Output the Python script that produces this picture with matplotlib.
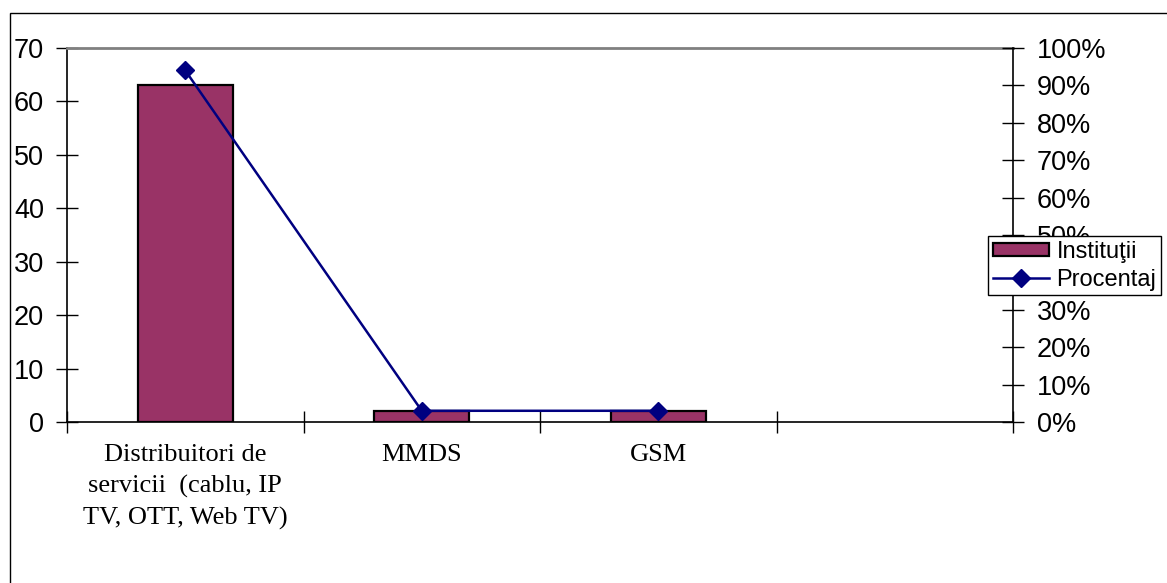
import matplotlib.pyplot as plt
from matplotlib.patches import Rectangle, Patch
from matplotlib.lines import Line2D
from matplotlib.ticker import FuncFormatter

categories = ["Distribuitori de\nservicii  (cablu, IP\nTV, OTT, Web TV)", "MMDS", "GSM", ""]
institutii = [63, 2, 2]
procentaj = [0.94, 0.03, 0.03]
left_ticks = [0, 10, 20, 30, 40, 50, 60, 70]
right_ticks = [0.0, 0.1, 0.2, 0.3, 0.4, 0.5, 0.6, 0.7, 0.8, 0.9, 1.0]

bar_color = '#993366'
line_color = '#000080'
sans = 'Liberation Sans'
serif = 'Liberation Serif'

W, H = 1167, 583
fig = plt.figure(figsize=(W / 100, H / 100), dpi=100)

# outer chart border (only left/top edges visible in the image)
fig.patches.append(Rectangle((10 / W, -0.1), 1.2, 1 - 13 / H + 0.1,
                             transform=fig.transFigure, fill=False,
                             edgecolor='black', linewidth=1))

ax = fig.add_axes([67 / W, 1 - 422 / H, (1013 - 67) / W, (422 - 48) / H])
ax2 = ax.twinx()

xs = list(range(len(institutii)))
ax.bar(xs, institutii, width=0.4, color=bar_color, edgecolor='black',
       linewidth=1.6, zorder=2)
ax.set_xlim(-0.5, len(categories) - 0.5)
ax.set_ylim(0, 70)
ax.set_yticks(left_ticks)
ax.set_yticklabels([str(t) for t in left_ticks], fontfamily=sans, fontsize=19.5)

# category boundaries as major ticks, labels on minor ticks
ax.set_xticks([i - 0.5 for i in range(len(categories) + 1)])
ax.set_xticklabels([])
ax.set_xticks(range(len(categories)), minor=True)
ax.set_xticklabels(categories, minor=True, fontfamily=serif, fontsize=19,
                   linespacing=1.5, va='top')
ax.tick_params(axis='x', which='minor', length=0, pad=16)
ax.tick_params(axis='x', which='major', direction='inout', length=16, width=1)
ax.tick_params(axis='y', direction='inout', length=16, width=1, pad=8.5)

ax.spines['top'].set_color('#808080')
ax.spines['top'].set_linewidth(2)
ax.spines['right'].set_visible(False)
ax.spines['left'].set_linewidth(1.2)
ax.spines['bottom'].set_linewidth(1.2)

ax2.plot(xs, procentaj, color=line_color, linewidth=1.8, marker='D',
         markersize=9, zorder=3)
ax2.set_ylim(0, 1)
ax2.set_yticks(right_ticks)
ax2.yaxis.set_major_formatter(FuncFormatter(lambda v, p: '%d%%' % round(v * 100)))
for lab in ax2.get_yticklabels():
    lab.set_fontfamily(sans)
    lab.set_fontsize(19.5)
ax2.tick_params(axis='y', direction='inout', length=16, width=1, pad=9)
ax2.spines['right'].set_linewidth(1.2)
ax2.spines['top'].set_visible(False)
ax2.spines['left'].set_visible(False)
ax2.spines['bottom'].set_visible(False)
ax.set_zorder(ax2.get_zorder() - 1)
ax2.patch.set_visible(False)

handles = [Patch(facecolor=bar_color, edgecolor='black', linewidth=1.6),
           Line2D([], [], color=line_color, linewidth=1.8, marker='D', markersize=9)]
leg = fig.legend(handles, ['Instituţii', 'Procentaj'], loc='upper left',
                 bbox_to_anchor=(988 / W, 1 - 236 / H),
                 prop={'family': sans, 'size': 17}, frameon=True, fancybox=False,
                 framealpha=1, handlelength=2.4, handleheight=0.5,
                 handletextpad=0.3, borderpad=0.2, labelspacing=0.25,
                 borderaxespad=0)
leg.get_frame().set_edgecolor('black')
leg.get_frame().set_linewidth(1)

fig.savefig('out.png', dpi=100)
